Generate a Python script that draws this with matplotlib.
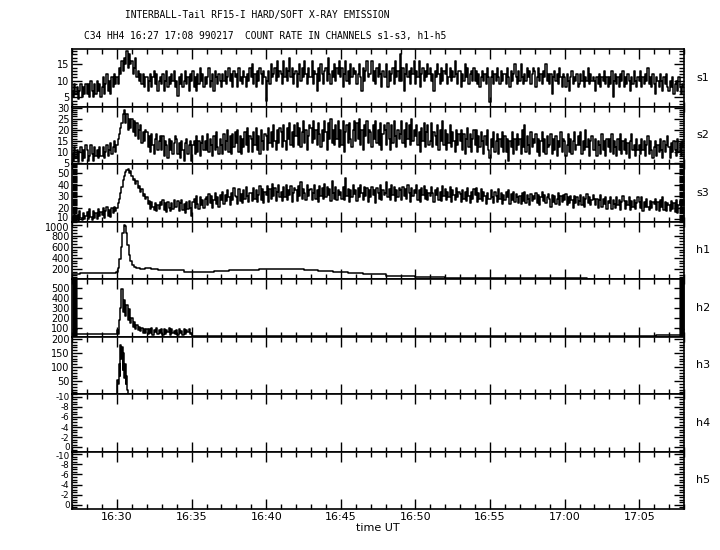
import numpy as np
import matplotlib
matplotlib.use("Agg")
import matplotlib.pyplot as plt
from matplotlib import font_manager
from matplotlib.ticker import MultipleLocator, FixedLocator
from matplotlib.transforms import ScaledTranslation

plt.rcParams['font.family'] = ['DejaVu Sans']
installed = {f.name for f in font_manager.fontManager.ttflist}
title_font = 'Liberation Sans Narrow' if 'Liberation Sans Narrow' in installed else 'DejaVu Sans Mono'
title_size = 7.5 if title_font == 'Liberation Sans Narrow' else 6.9

# time axis: minutes after 16:27, up to 17:08
t_start, t_end = 0.0, 41.0
tick_minutes = [3, 8, 13, 18, 23, 28, 33, 38]
tick_labels = ["16:30", "16:35", "16:40", "16:45", "16:50", "16:55", "17:00", "17:05"]

# soft channels, 12 samples per minute (one row per minute)
s1 = [7, 5, 9, 6, 8, 4.5, 7, 9, 5, 8, 6, 9,
      6, 9, 5, 10, 7, 5, 9, 6, 10, 7, 9, 5,
      8, 11, 6, 9, 12, 7, 10, 6, 11, 8, 12, 9,
      11, 9, 14, 12, 16, 13, 17, 15, 19, 14, 18, 15,
      16, 12, 14, 17, 11, 13, 10, 12, 9, 12, 8, 11,
      11, 7, 10, 12, 8, 11, 13, 9, 12, 7, 10, 11,
      9, 12, 7, 10, 13, 8, 11, 9, 12, 10, 13, 8,
      10, 5.5, 11, 9, 12, 8, 10, 13, 9, 11, 7, 12,
      10, 13, 8, 11, 7, 12, 9, 14, 10, 12, 8, 11,
      9, 11, 14, 8, 10, 12, 7, 13, 11, 9, 12, 10,
      8, 12, 10, 13, 9, 11, 14, 10, 12, 8, 13, 11,
      12, 8, 14, 10, 11, 9, 13, 11, 8, 12, 10, 14,
      11, 15, 9, 12, 8, 13, 10, 14, 12, 9, 13, 11,
      4, 10, 13, 9, 15, 11, 12, 14, 10, 16, 11, 13,
      12, 9, 16, 11, 14, 10, 13, 17, 11, 14, 9, 12,
      13, 8, 12, 15, 10, 14, 11, 16, 12, 9, 14, 11,
      11, 16, 9, 13, 12, 7, 14, 10, 15, 12, 9, 13,
      14, 10, 17, 12, 9, 13, 11, 15, 10, 14, 12, 16,
      11, 14, 8, 12, 16, 10, 13, 9, 15, 11, 14, 12,
      13, 9, 12, 15, 11, 7, 14, 10, 13, 16, 11, 12,
      12, 16, 10, 13, 9, 14, 11, 15, 12, 8, 13, 11,
      11, 15, 8, 13, 10, 12, 14, 9, 16, 11, 13, 10,
      18, 10, 14, 7, 12, 15, 11, 13, 9, 14, 12, 16,
      9, 13, 11, 16, 8, 12, 14, 10, 13, 11, 15, 12,
      14, 10, 12, 7, 13, 11, 15, 12, 9, 14, 10, 13,
      12, 15, 9, 11, 14, 10, 13, 11, 16, 12, 9, 13,
      13, 8, 12, 10, 15, 11, 14, 9, 12, 13, 10, 14,
      10, 13, 9, 12, 8, 11, 13, 10, 12, 9, 14, 11,
      3.5, 11, 13, 9, 12, 10, 14, 11, 9, 13, 10, 12,
      12, 9, 14, 11, 8, 13, 10, 12, 15, 11, 9, 13,
      10, 15, 11, 9, 12, 10, 14, 11, 13, 9, 12, 14,
      13, 8, 11, 14, 10, 12, 9, 13, 11, 15, 10, 12,
      9, 12, 6, 11, 13, 10, 12, 9, 14, 11, 8, 12,
      11, 8, 12, 10, 7, 11, 13, 9, 11, 10, 12, 8,
      9, 12, 10, 13, 8, 11, 10, 14, 9, 12, 10, 11,
      10, 7, 11, 9, 12, 8, 11, 10, 13, 9, 11, 8,
      11, 9, 13, 5, 10, 12, 9, 11, 8, 12, 10, 13,
      8, 11, 9, 12, 10, 7, 11, 9, 13, 10, 8, 11,
      10, 13, 8, 11, 9, 12, 10, 14, 9, 11, 8, 12,
      9, 6, 11, 10, 8, 12, 10, 7, 11, 9, 12, 8,
      7, 10, 8, 11, 6, 9, 10, 7, 11, 8, 6, 9,
      8]
s2 = [9, 6, 12, 7, 11, 5.5, 10, 12, 6, 11, 7, 13,
      11, 6, 8, 13, 9, 6, 12, 8, 11, 7, 12, 8,
      8, 12, 7, 10, 13, 8, 11, 14, 9, 12, 15, 10,
      13, 16, 18, 21, 23, 27, 29, 23, 27, 20, 25, 21,
      25, 19, 24, 17, 23, 16, 20, 22, 14, 19, 15, 20,
      19, 12, 17, 10, 18, 13, 9, 16, 18, 11, 15, 17,
      11, 17, 8, 15, 13, 7, 16, 11, 15, 9, 14, 17,
      16, 9, 14, 7, 15, 11, 6, 14, 16, 9, 13, 15,
      6, 13, 15, 9, 17, 10, 15, 8, 14, 17, 11, 15,
      11, 18, 10, 16, 13, 8, 17, 11, 19, 12, 9, 16,
      13, 9, 18, 11, 15, 20, 10, 17, 9, 18, 12, 19,
      14, 20, 10, 17, 9, 16, 12, 19, 13, 21, 10, 17,
      16, 10, 19, 13, 21, 11, 17, 9, 20, 15, 11, 18,
      17, 11, 21, 14, 19, 12, 22, 15, 11, 20, 14, 21,
      19, 12, 22, 15, 11, 21, 16, 23, 13, 19, 12, 22,
      17, 23, 13, 21, 12, 19, 24, 14, 20, 11, 17, 22,
      21, 14, 24, 16, 20, 13, 23, 18, 12, 20, 15, 24,
      19, 11, 23, 16, 25, 14, 20, 13, 22, 16, 24, 12,
      20, 13, 24, 10, 19, 22, 14, 23, 16, 12, 20, 24,
      15, 23, 16, 25, 13, 20, 11, 22, 17, 24, 14, 20,
      19, 12, 22, 16, 24, 14, 20, 13, 23, 11, 18, 22,
      20, 13, 23, 16, 11, 22, 14, 24, 17, 12, 20, 16,
      18, 24, 14, 20, 12, 23, 16, 22, 13, 25, 15, 20,
      17, 22, 13, 19, 10, 21, 15, 23, 12, 19, 22, 13,
      15, 23, 12, 19, 17, 13, 22, 11, 20, 15, 24, 13,
      20, 11, 18, 14, 22, 12, 19, 15, 10, 20, 13, 18,
      15, 20, 11, 18, 9, 16, 21, 12, 18, 10, 16, 20,
      13, 20, 10, 17, 12, 19, 15, 9, 17, 13, 20, 11,
      7, 16, 12, 19, 10, 15, 18, 9, 16, 12, 19, 10,
      17, 10, 16, 6, 15, 12, 19, 9, 16, 11, 18, 13,
      16, 9, 20, 12, 22, 10, 17, 13, 9, 19, 12, 16,
      14, 18, 10, 16, 8, 15, 19, 10, 16, 9, 17, 12,
      13, 18, 9, 16, 11, 17, 8, 15, 12, 19, 10, 16,
      15, 8, 13, 18, 10, 16, 9, 15, 19, 11, 13, 17,
      13, 19, 9, 15, 11, 20, 12, 16, 8, 15, 17, 11,
      11, 16, 8, 15, 13, 9, 18, 11, 15, 8, 16, 12,
      16, 10, 18, 9, 15, 12, 8, 16, 11, 18, 9, 15,
      11, 16, 9, 14, 7, 15, 18, 11, 13, 8, 16, 11,
      13, 9, 16, 11, 15, 8, 13, 17, 9, 15, 11, 7,
      12, 15, 8, 13, 10, 16, 11, 7, 15, 10, 13, 17,
      12, 7, 14, 10, 15, 11, 8, 16, 10, 14, 8, 15,
      12]
s3 = [12, 9, 16, 10, 14, 8, 17, 11, 9, 15, 10, 13,
      16, 10, 19, 12, 9, 17, 11, 15, 10, 19, 13, 16,
      14, 20, 11, 17, 21, 13, 18, 12, 20, 15, 21, 17,
      20, 24, 28, 33, 38, 44, 48, 51, 53, 54, 50, 52,
      48, 44, 45, 41, 43, 37, 39, 34, 36, 30, 32, 28,
      29, 23, 26, 19, 25, 21, 18, 24, 17, 22, 19, 25,
      22, 27, 18, 24, 16, 25, 20, 17, 24, 19, 27, 21,
      21, 26, 17, 24, 27, 18, 23, 15, 25, 19, 26, 20,
      13, 25, 28, 20, 30, 23, 19, 29, 22, 27, 20, 28,
      29, 22, 32, 24, 30, 20, 27, 33, 23, 29, 21, 31,
      27, 34, 23, 31, 26, 35, 29, 22, 33, 27, 37, 30,
      29, 23, 36, 26, 32, 24, 35, 28, 38, 30, 25, 33,
      33, 26, 37, 28, 35, 25, 31, 39, 27, 36, 24, 34,
      31, 39, 25, 36, 28, 41, 30, 37, 26, 34, 40, 29,
      34, 26, 38, 29, 40, 27, 35, 31, 39, 25, 33, 37,
      35, 26, 39, 30, 42, 28, 36, 33, 27, 40, 30, 35,
      36, 27, 33, 40, 28, 35, 25, 39, 30, 37, 28, 41,
      29, 38, 31, 36, 26, 43, 33, 28, 38, 27, 35, 31,
      34, 28, 38, 27, 46, 30, 36, 25, 35, 29, 40, 32,
      35, 26, 37, 29, 40, 33, 27, 38, 30, 37, 25, 35,
      29, 38, 31, 35, 24, 37, 33, 28, 40, 27, 35, 31,
      33, 42, 29, 36, 27, 40, 31, 38, 26, 35, 29, 37,
      35, 27, 38, 30, 36, 28, 40, 33, 25, 37, 30, 35,
      33, 40, 27, 35, 25, 37, 31, 39, 28, 35, 27, 33,
      30, 38, 33, 25, 35, 31, 37, 27, 34, 26, 39, 30,
      36, 27, 34, 29, 38, 25, 35, 31, 27, 37, 29, 34,
      32, 25, 35, 28, 34, 26, 37, 30, 24, 34, 28, 36,
      31, 37, 25, 33, 28, 36, 26, 34, 30, 23, 33, 28,
      28, 35, 29, 24, 34, 30, 25, 36, 28, 33, 23, 31,
      27, 34, 29, 35, 23, 32, 27, 34, 25, 32, 29, 24,
      30, 23, 33, 26, 34, 24, 31, 28, 22, 32, 26, 30,
      28, 33, 24, 31, 22, 29, 34, 26, 31, 24, 29, 32,
      28, 21, 31, 25, 30, 23, 28, 33, 22, 30, 25, 31,
      27, 32, 22, 29, 24, 30, 27, 20, 30, 24, 29, 22,
      26, 31, 22, 29, 21, 28, 32, 24, 29, 22, 27, 31,
      28, 22, 28, 20, 27, 31, 21, 28, 23, 29, 19, 26,
      24, 29, 19, 27, 23, 20, 29, 22, 27, 18, 25, 30,
      26, 19, 26, 22, 29, 18, 26, 21, 27, 19, 24, 29,
      25, 20, 29, 17, 25, 21, 28, 21, 18, 26, 20, 25,
      23, 28, 18, 25, 17, 27, 21, 29, 18, 25, 17, 24,
      22, 17, 26, 19, 24, 16, 27, 15, 22, 26, 18, 24,
      22]

# h1: smooth profile, (minute, counts)
h1_t = [0, 1, 2, 2.8, 3.0, 3.1, 3.2, 3.3, 3.4, 3.47, 3.55, 3.65, 3.75, 3.85,
        3.95, 4.05, 4.2, 4.4, 4.7, 5.0, 5.5, 6, 7, 8, 9, 10, 11, 12, 13, 14,
        15, 16, 17, 18, 19, 20, 22, 24, 26, 28, 30, 33, 36, 39, 41]
h1_v = [115, 120, 125, 130, 150, 220, 380, 600, 850, 990, 980, 850, 640, 460,
        340, 280, 240, 215, 205, 215, 195, 190, 185, 150, 145, 160, 175, 190,
        200, 205, 195, 185, 170, 150, 130, 110, 80, 55, 40, 32, 30, 30, 28, 28, 27]

# h2: quiet level, burst 16:30-16:35 (12 samples per minute), quiet level
h2_before = 32
h2_burst = [70, 30, 180, 300, 490, 260, 380, 220, 330, 180, 290, 150,
            200, 110, 160, 90, 130, 70, 110, 60, 95, 45, 85, 40,
            90, 30, 80, 40, 95, 25, 75, 50, 100, 30, 70, 45,
            85, 20, 90, 35, 70, 50, 95, 25, 80, 40, 65, 30,
            75, 20, 90, 45, 60, 25, 85, 35, 70, 50, 80, 30, 40]
h2_after = 12
h2_late = 22
h2_late_start = 39.1

# h3: short spike around 16:30 (20 samples per minute)
h3_start = 2.95
h3_burst = [0, 20, 55, 40, 110, 70, 180, 130, 170, 90, 150, 60, 110, 40, 70, 20, 0]

channels = ["s1", "s2", "s3", "h1", "h2", "h3", "h4", "h5"]
yticks = [[5, 10, 15], [5, 10, 15, 20, 25, 30], [10, 20, 30, 40, 50],
          [200, 400, 600, 800, 1000], [100, 200, 300, 400, 500],
          [50, 100, 150, 200], [-10, -8, -6, -4, -2, 0], [-10, -8, -6, -4, -2, 0]]
ylims = [(2.2, 19.6), (4.5, 30.5), (8, 58), (20, 1055), (9, 590), (4, 209),
         (0.8, -10.5), (0.8, -10.5)]
minor = [1, 1, 1, 50, 10, 10, 0.5, 0.5]

series = {}
for name, vals in (("s1", s1), ("s2", s2), ("s3", s3)):
    series[name] = (np.linspace(t_start, t_end, len(vals)), np.array(vals, float))
series["h1"] = (np.array(h1_t), np.array(h1_v, float))
bt = np.linspace(3.0, 8.0, len(h2_burst))
h2t = np.concatenate([[t_start, 2.97], bt, [8.05, h2_late_start, h2_late_start + 0.01, t_end]])
h2v = np.concatenate([[h2_before, h2_before], h2_burst, [h2_after, h2_after, h2_late, h2_late]])
series["h2"] = (h2t, h2v)
series["h3"] = (h3_start + 0.05 * np.arange(len(h3_burst)), np.array(h3_burst, float))

fig, axes = plt.subplots(8, 1, figsize=(7.2, 5.5), dpi=100, sharex=True)
fig.subplots_adjust(left=0.1004, right=0.95, top=0.9109, bottom=0.0745, hspace=0)

for i, ax in enumerate(axes):
    name = channels[i]
    if name in series:
        t, v = series[name]
        ax.plot(t, v, color='black', lw=1.1, drawstyle='steps-mid')
    ax.set_xlim(t_start, t_end)
    ax.set_ylim(*ylims[i])
    ax.set_yticks(yticks[i], labels=[str(v) for v in yticks[i]])
    ax.yaxis.set_minor_locator(MultipleLocator(minor[i]))
    ax.xaxis.set_major_locator(FixedLocator(tick_minutes))
    ax.xaxis.set_minor_locator(MultipleLocator(1))
    ax.tick_params(which='both', direction='in', top=True, right=True,
                   width=1.0, labelsize=7, pad=2)
    ax.tick_params(which='major', length=7)
    ax.tick_params(which='minor', length=3.5)
    for sp in ax.spines.values():
        sp.set_linewidth(1.2)
    ax.text(1.02, 0.5, name, transform=ax.transAxes, fontsize=8,
            va='center', ha='left')

# the two empty channels have tightly packed labels
for ax in axes[6:]:
    ax.tick_params(axis='y', labelsize=6.3)

axes[-1].set_xticklabels(tick_labels)
axes[-1].tick_params(axis='x', labelsize=8)
axes[-1].set_xlabel("time UT", fontsize=8, labelpad=1)

fig.text(0.357, 0.973, "INTERBALL-Tail RF15-I HARD/SOFT X-RAY EMISSION",
         ha='center', va='center', fontsize=title_size, family=title_font)
fig.text(0.368, 0.9345, "C34 HH4 16:27 17:08 990217  COUNT RATE IN CHANNELS s1-s3, h1-h5",
         ha='center', va='center', fontsize=title_size, family=title_font)

# nudge the crowded labels at panel joins apart (a few pixels)
fig.canvas.draw()


def nudge(ax, value, dy_px):
    for tick in ax.yaxis.get_major_ticks():
        if tick.get_loc() == value:
            lab = tick.label1
            lab.set_transform(lab.get_transform()
                              + ScaledTranslation(0, dy_px / 100, fig.dpi_scale_trans))


nudge(axes[2], 10, 2.5)
nudge(axes[3], 1000, -2.5)
nudge(axes[6], 0, 1.3)
nudge(axes[7], -10, -1.3)

fig.savefig("out.png", dpi=100)
